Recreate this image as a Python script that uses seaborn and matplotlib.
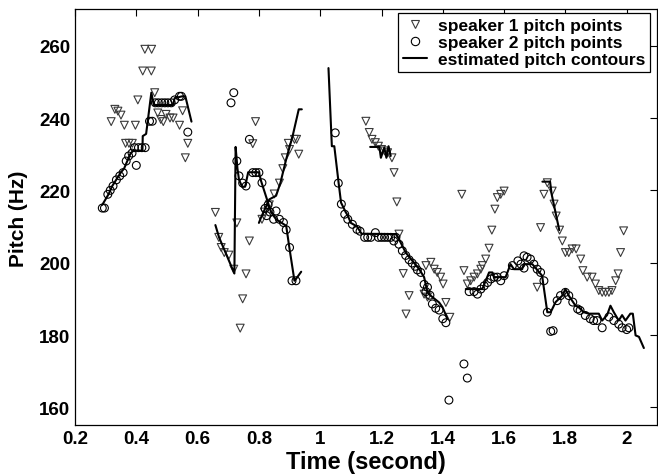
import pandas as pd
import seaborn as sns
import matplotlib.pyplot as plt
from matplotlib.lines import Line2D

# speaker 1 pitch points (triangles)
s1_t = [0.318, 0.33, 0.34, 0.35, 0.361, 0.365, 0.376, 0.387, 0.397, 0.405, 0.421, 0.449, 0.428, 0.45,
        0.46, 0.47, 0.48, 0.488, 0.497, 0.51, 0.52, 0.541, 0.551, 0.56, 0.568,
        0.658, 0.669, 0.677, 0.687, 0.702, 0.718, 0.728, 0.739, 0.747, 0.758, 0.769, 0.78, 0.789,
        0.81, 0.818, 0.834, 0.85, 0.867, 0.878, 0.886, 0.896, 0.9, 0.916, 0.923, 0.93,
        1.149, 1.16, 1.169, 1.18, 1.19, 1.2, 1.21, 1.22, 1.234, 1.241, 1.25, 1.257, 1.271, 1.28, 1.29,
        1.339, 1.35, 1.345, 1.361, 1.372, 1.382, 1.393, 1.401, 1.41, 1.423, 1.462, 1.469,
        1.48, 1.491, 1.502, 1.513, 1.524, 1.529, 1.54, 1.551, 1.56, 1.57, 1.578, 1.589, 1.6,
        1.708, 1.719, 1.73, 1.741, 1.757, 1.763, 1.77, 1.781, 1.79,
        1.8, 1.811, 1.822, 1.835, 1.85, 1.857, 1.871, 1.887, 1.898, 1.909, 1.92, 1.931, 1.942,
        1.952, 1.964, 1.972, 1.98, 1.99]
s1_f = [239, 242.4, 241.9, 240.8, 238, 233, 233, 233, 238, 245, 253, 253, 259, 259,
        247, 241.4, 239.6, 239, 241, 240, 240, 238, 242, 229, 233,
        213.9, 207, 204.2, 202.8, 202.1, 198.2, 211, 181.9, 190, 196.9, 206, 232.9, 239,
        212, 214, 216, 219, 222, 226, 229, 233, 231.3, 234.1, 234.1, 230,
        239.1, 236, 234.1, 233.2, 232.2, 231.3, 230.9, 230.4, 229, 224.9, 216.8, 207.9, 197, 185.8, 190.9,
        191.3, 190.5, 199.2, 200.1, 198.2, 197.3, 196, 194.1, 189, 184.9, 218.9, 197.8,
        194.1, 195, 196, 196.9, 198.2, 199.2, 201, 204, 209, 214.8, 218, 218.9, 219.8,
        193.2, 209.7, 218.9, 222.1, 219.8, 216.2, 212.9, 209, 206,
        202.8, 202.8, 203.8, 203.8, 201, 197.8, 196, 196, 194.1, 192.3, 191.8, 191.8, 191.8,
        192.3, 195, 196.9, 202.8, 208.8]

# speaker 2 pitch points (circles)
s2_t = [0.289, 0.296, 0.307, 0.315, 0.324, 0.335, 0.346, 0.357, 0.367, 0.375, 0.386, 0.4, 0.394,
        0.407, 0.418, 0.429, 0.443, 0.452, 0.462, 0.472, 0.483, 0.493, 0.503, 0.514, 0.525,
        0.541, 0.547, 0.568,
        0.709, 0.718, 0.728, 0.735, 0.747, 0.758, 0.769, 0.78, 0.79, 0.8, 0.81, 0.82, 0.825, 0.83,
        0.836, 0.848, 0.856, 0.867, 0.88, 0.889, 0.9, 0.908, 0.921,
        1.049, 1.059, 1.069, 1.08, 1.09, 1.105, 1.12, 1.13, 1.145, 1.155, 1.165, 1.18, 1.19, 1.2,
        1.21, 1.22, 1.23, 1.24, 1.247, 1.257, 1.268, 1.279, 1.29, 1.3, 1.31, 1.317, 1.328, 1.339,
        1.345, 1.35, 1.358, 1.366, 1.377, 1.388, 1.4, 1.41, 1.42, 1.469, 1.48,
        1.486, 1.502, 1.513, 1.524, 1.535, 1.546, 1.557, 1.568, 1.578, 1.589, 1.6, 1.627, 1.645,
        1.655, 1.665, 1.665, 1.675, 1.686, 1.697, 1.708, 1.719, 1.73, 1.741, 1.752, 1.76, 1.773,
        1.784, 1.8, 1.811, 1.824, 1.84, 1.848, 1.865, 1.881, 1.892, 1.903, 1.92, 1.942, 1.958,
        1.974, 1.985, 2.0, 2.007]
s2_f = [215.1, 215.1, 218.9, 220, 221.2, 222.9, 224, 224.9, 228.1, 229.5, 230.3, 226.9, 231.8,
        231.8, 231.8, 231.8, 239.1, 239.1, 244.2, 244.2, 244.2, 244.2, 244.2, 244.2, 245,
        246, 246, 236.1,
        244.2, 247, 228.1, 224, 222, 221.2, 234.1, 224.9, 224.9, 224.9, 222.1, 215, 213, 216,
        214, 212, 214.3, 212, 211.1, 209.1, 204.2, 195, 195,
        235.9, 222, 216.2, 213.4, 212, 210.6, 209.2, 208.7, 207, 207, 207, 208.3, 207, 207,
        207, 207, 207, 206, 207, 205.1, 203.3, 202, 200.8, 199.9, 199, 198, 197.3, 194,
        192, 193.2, 191, 188.6, 187.4, 186.9, 184.5, 183.4, 162, 172, 168.1,
        192, 192, 191.3, 192.7, 193.6, 194.5, 195.5, 196, 196, 195, 196.4, 199.2, 200.5,
        199.6, 198.5, 201.9, 201.5, 201, 199.6, 198.2, 197.3, 195, 186.3, 181, 181.2, 189.5,
        190.9, 191.8, 190.9, 189.1, 187.2, 186.8, 185.4, 184.5, 184, 184, 182, 185, 184,
        183, 182, 181.5, 182]

# estimated pitch contours (one list per piece)
c1_t = [0.289, 0.31, 0.32, 0.335, 0.35, 0.36, 0.37, 0.38, 0.39, 0.42, 0.421, 0.432, 0.438, 0.449,
        0.457, 0.52, 0.525, 0.55, 0.56, 0.58]
c1_f = [216, 219, 221, 223, 225, 226, 228, 230, 231, 231, 235, 235.6, 239.6, 247,
        243.6, 243.6, 245.5, 246, 246, 239]
c2_t = [0.658, 0.67, 0.69, 0.71, 0.72, 0.724, 0.73, 0.735, 0.745, 0.755, 0.765, 0.8, 0.807,
        0.84, 0.856, 0.889, 0.9, 0.916, 0.921, 0.938]
c2_f = [210.4, 207, 203, 199, 197, 232, 226, 223, 221, 221, 225, 225, 222.6,
        213.9, 212, 210.2, 203.8, 195, 195.5, 197.5]
c3_t = [0.8, 0.807, 0.834, 0.856, 0.87, 0.889, 0.91, 0.93, 0.94]
c3_f = [211, 212.5, 217.5, 218.5, 222, 228.6, 235, 242.4, 242.4]
c4_t = [1.027, 1.038, 1.046, 1.06, 1.068, 1.083, 1.09, 1.1, 1.12, 1.135, 1.247, 1.257, 1.279,
        1.323, 1.339, 1.35, 1.36, 1.388, 1.399, 1.415]
c4_f = [253.8, 232.2, 232.2, 222.1, 216.6, 214, 213, 211, 210, 208, 207.9, 206.5, 202.8,
        198.2, 196, 191.8, 190.9, 189, 187.7, 184.5]
c5_t = [1.163, 1.193, 1.198, 1.209, 1.216, 1.223, 1.23]
c5_f = [232, 232, 229, 231.8, 229, 232.2, 229.5]
c6_t = [1.475, 1.529, 1.551, 1.562, 1.567, 1.605, 1.621, 1.632, 1.659, 1.664, 1.692, 1.724,
        1.741, 1.752, 1.768, 1.79, 1.8, 1.811, 1.833, 1.843, 1.86, 1.876, 1.909, 1.92, 1.936,
        1.947, 1.958, 1.974, 1.985, 1.996, 2.012, 2.02, 2.029, 2.04, 2.056]
c6_f = [192.7, 192.7, 197.3, 197.3, 196, 196, 199.6, 198.2, 198.2, 199.6, 199.6, 196.4,
        186.3, 186.3, 189.1, 190.9, 192.7, 190.9, 188.1, 187.7, 186.3, 185.9, 185.9, 184, 185.5,
        188.1, 186.3, 184, 185.5, 184, 185.9, 185.9, 179.9, 179.5, 176.4]
c7_t = [1.725, 1.75, 1.755, 1.765, 1.78]
c7_f = [222.4, 222.4, 219, 215, 209]

contours = [(c1_t, c1_f), (c2_t, c2_f), (c3_t, c3_f), (c4_t, c4_f),
            (c5_t, c5_f), (c6_t, c6_f), (c7_t, c7_f)]
df_c = pd.concat([pd.DataFrame({'t': t, 'f': f, 'seg': i}) for i, (t, f) in enumerate(contours)],
                 ignore_index=True)
df1 = pd.DataFrame({'t': s1_t, 'f': s1_f})
df2 = pd.DataFrame({'t': s2_t, 'f': s2_f})

sns.set_style('white')
plt.rcParams['font.family'] = ['Liberation Sans', 'DejaVu Sans']
plt.rcParams['font.weight'] = 'bold'
plt.rcParams['text.color'] = 'black'
plt.rcParams['axes.labelcolor'] = 'black'

fig = plt.figure(figsize=(6.58, 4.77), dpi=100)
ax = fig.add_axes([0.114, 0.106, 0.885, 0.872])

sns.lineplot(data=df_c, x='t', y='f', units='seg', estimator=None, sort=False,
             color='black', linewidth=1.5, ax=ax, legend=False)
sns.scatterplot(data=df1, x='t', y='f', marker='v', s=32, facecolor='none',
                edgecolor='#3a3a3a', linewidth=0.8, ax=ax, legend=False)
sns.scatterplot(data=df2, x='t', y='f', marker='o', s=32, facecolor='none',
                edgecolor='black', linewidth=0.8, ax=ax, legend=False)

ax.set_xlim(0.2, 2.1)
ax.set_ylim(155, 270)
ax.set_xticks([0.2, 0.4, 0.6, 0.8, 1.0, 1.2, 1.4, 1.6, 1.8, 2.0])
ax.set_xticklabels(['0.2', '0.4', '0.6', '0.8', '1', '1.2', '1.4', '1.6', '1.8', '2'])
ax.set_yticks([160, 180, 200, 220, 240, 260])
ax.tick_params(direction='in', length=5, width=0.8, top=True, right=True,
               labelsize=13.5, colors='black')
for lab in ax.get_xticklabels() + ax.get_yticklabels():
    lab.set_fontweight('bold')
for sp in ax.spines.values():
    sp.set_color('black')
    sp.set_linewidth(0.9)

ax.set_xlabel('Time (second)', fontsize=17, fontweight='bold', labelpad=2)
ax.set_ylabel('Pitch (Hz)', fontsize=15, fontweight='bold', labelpad=8)

handles = [
    Line2D([], [], linestyle='none', marker='v', markersize=6, markerfacecolor='none',
           markeredgecolor='#3a3a3a', markeredgewidth=0.8),
    Line2D([], [], linestyle='none', marker='o', markersize=6, markerfacecolor='none',
           markeredgecolor='black', markeredgewidth=0.8),
    Line2D([], [], color='black', linewidth=1.5),
]
labels = ['speaker 1 pitch points', 'speaker 2 pitch points', 'estimated pitch contours']
leg = ax.legend(handles, labels, loc='upper right', bbox_to_anchor=(0.988, 0.992),
                borderaxespad=0, fancybox=False, framealpha=1, edgecolor='black',
                prop={'size': 12.5, 'weight': 'bold'}, handlelength=1.4, handletextpad=0.6,
                labelspacing=0.1, borderpad=0.3)
leg.get_frame().set_linewidth(0.9)

fig.savefig('out.png', dpi=100)
